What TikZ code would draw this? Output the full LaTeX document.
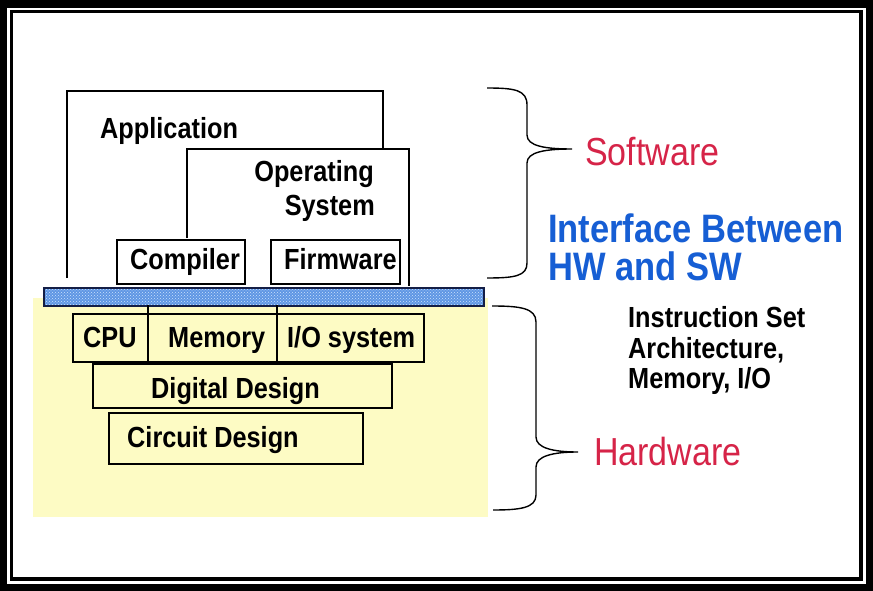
\documentclass[tikz,border=0pt]{standalone}
\usepackage{fontspec}
\setmainfont{Liberation Sans}
\usepackage{graphicx}
\usetikzlibrary{patterns}
\definecolor{hwyellow}{RGB}{253,251,196}
\definecolor{swred}{RGB}{214,36,72}
\definecolor{ifblue}{RGB}{22,94,212}
\definecolor{barblue}{RGB}{95,150,228}
\definecolor{barhatch}{RGB}{205,228,252}
\definecolor{barline}{RGB}{20,30,70}
\newcommand{\vstr}[1]{\scalebox{1}[1.15]{#1}}
\begin{document}
\begin{tikzpicture}[x=1pt,y=-1pt,
  layer/.style={draw=black, line width=1.6pt},
  boxnode/.style={layer, anchor=north west, inner sep=0pt},
  txt/.style={anchor=base west, inner sep=0pt, font=\fontsize{25.3}{30}\selectfont\bfseries},
  txtr/.style={txt, anchor=base east},
  big/.style={anchor=base west, inner sep=0pt, font=\fontsize{34}{40}\selectfont},
  bigb/.style={anchor=base west, inner sep=0pt, font=\fontsize{34.5}{40}\selectfont\bfseries},
  bracepath/.style={draw=black, line width=1.4pt}
]
\useasboundingbox (0,0) rectangle (873,591);
% frame
\fill[black] (0,0) rectangle (873,591);
\fill[white] (7,8) rectangle (866,584);
\draw[line width=3.5pt] (11.5,11.5) rectangle (861,579);
% hardware background
\fill[hwyellow] (33,298) rectangle (488,517);
% application and OS outlines
\draw[layer] (67,278) -- (67,91) -- (383,91) -- (383,150);
\draw[layer] (187,238) -- (187,149) -- (409,149) -- (409,286);
\node[txt] (app) at (100,139) {\vstr{Application}};
\node[txtr] (os1) at (374,182) {\vstr{Operating}};
\node[txtr] (os2) at (375,215) {\vstr{System}};
% compiler / firmware
\node[boxnode, fill=white, minimum width=128pt, minimum height=44pt] (compbox) at (116,239) {};
\node[boxnode, fill=white, minimum width=129pt, minimum height=44pt] (firmbox) at (270,239) {};
\node[txt] (comp) at (130,269) {\vstr{Compiler}};
\node[txt] (firm) at (284,269) {\vstr{Firmware}};
% interface bar
\fill[barblue] (43,287) rectangle (483,305);
\fill[pattern=crosshatch dots, pattern color=barhatch] (43,287) rectangle (483,305);
\node[draw=barline, line width=1.6pt, anchor=north west, inner sep=0pt, minimum width=440pt, minimum height=18pt] (bar) at (43,287) {};
% hardware layers
\node[boxnode, minimum width=351pt, minimum height=48pt] (cpurow) at (72,313) {};
\draw[layer] (148,305) -- (148,361);
\draw[layer] (277,305) -- (277,361);
\node[txt] (cpu) at (83,347) {\vstr{CPU}};
\node[txt] (mem) at (168,347) {\vstr{Memory}};
\node[txt] (io) at (287,347) {\vstr{I/O system}};
\node[boxnode, minimum width=299pt, minimum height=44pt] (digbox) at (92,363) {};
\node[txt] (dig) at (151,398) {\vstr{Digital Design}};
\node[boxnode, minimum width=254pt, minimum height=51pt] (circbox) at (108,412) {};
\node[txt] (circ) at (127,447) {\vstr{Circuit Design}};
% braces
\draw[bracepath] (487,88) .. controls (515,88) and (527,90) .. (527,105) -- (527,135)
  .. controls (527,146) and (545,149) .. (572,149)
  .. controls (545,149) and (527,152) .. (527,163) -- (527,263)
  .. controls (527,276) and (515,278) .. (487,278);
\draw[bracepath] (492,306) .. controls (520,306) and (536,308) .. (536,322) -- (536,437)
  .. controls (536,448) and (553,452) .. (578,452)
  .. controls (553,452) and (536,456) .. (536,467) -- (536,495)
  .. controls (536,508) and (520,510) .. (493,510);
% right labels
\node[big, text=swred] (sw) at (585,165) {\vstr{Software}};
\node[bigb, text=ifblue] (if1) at (548,242) {\vstr{Interface Between}};
\node[bigb, text=ifblue] (if2) at (548,280) {\vstr{HW and SW}};
\node[txt] (isa1) at (628,327) {\vstr{Instruction Set}};
\node[txt] (isa2) at (628,358) {\vstr{Architecture,}};
\node[txt] (isa3) at (628,388) {\vstr{Memory, I/O}};
\node[big, text=swred] (hw) at (594,465) {\vstr{Hardware}};
\end{tikzpicture}
\end{document}
